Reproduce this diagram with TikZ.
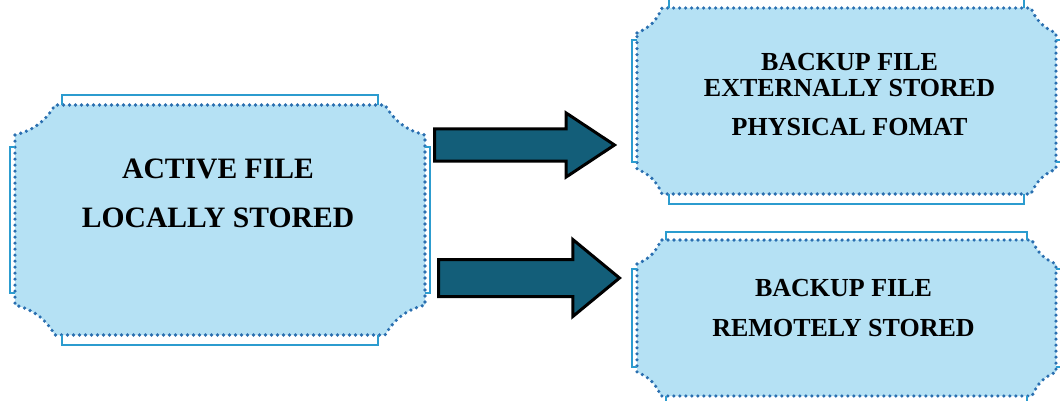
\documentclass[tikz,border=0pt]{standalone}
\usepackage{fontspec}
\setmainfont{Liberation Serif}
\usetikzlibrary{calc,fit,shapes.arrows}

\definecolor{paleblue}{HTML}{B5E1F4}
\definecolor{dotblue}{HTML}{2A6FB0}
\definecolor{rimblue}{HTML}{2C9CCF}
\definecolor{arrowteal}{HTML}{135E79}

% dotted plaque with solid side brackets: name, corner x, corner y, inset x, inset y, offset
\newcommand{\plaqueframe}[6]{%
    \draw[dotline]
        ($(#1.north west)+(0,#3)$) to[bend right=22] ($(#1.north west)+(#2,0)$)
        -- ($(#1.north east)+(-#2,0)$) to[bend right=22] ($(#1.north east)+(0,#3)$)
        -- ($(#1.south east)+(0,-#3)$) to[bend right=22] ($(#1.south east)+(-#2,0)$)
        -- ($(#1.south west)+(#2,0)$) to[bend right=22] ($(#1.south west)+(0,-#3)$)
        -- cycle;
    \draw[rimline] ($(#1.north west)+(#4,0)$) -- ++(0,-#6) -| ($(#1.north east)+(-#4,0)$);
    \draw[rimline] ($(#1.south west)+(#4,0)$) -- ++(0,#6) -| ($(#1.south east)+(-#4,0)$);
    \draw[rimline] ($(#1.north west)+(0,#5)$) -- ++(-5,0) |- ($(#1.south west)+(0,-#5)$);
    \draw[rimline] ($(#1.north east)+(0,#5)$) -- ++(5,0) |- ($(#1.south east)+(0,-#5)$);
}

\begin{document}
\begin{tikzpicture}[x=0.5pt, y=-0.5pt,
    plaque/.style={inner sep=0pt, outer sep=0pt},
    dotline/.style={draw=dotblue, fill=paleblue, line width=1.8pt, line cap=round, dash pattern=on 0pt off 3pt},
    rimline/.style={draw=rimblue, line width=1pt},
    boxtext/.style={align=center, inner sep=0pt, font=\bfseries\fontsize{13}{15.6}\selectfont},
    bigtext/.style={boxtext, font=\bfseries\fontsize{14.8}{17.8}\selectfont},
    blockarrow/.style={single arrow, draw=black, fill=arrowteal, line width=1.5pt, inner xsep=0pt, anchor=tail}]

    \useasboundingbox (0,0) rectangle (1060,401);
    \clip (0,0) rectangle (1060,401);

    \node[plaque, fit={(15,105) (425,335)}] (active) {};
    \node[plaque, fit={(637,8) (1056,194)}] (external) {};
    \node[plaque, fit={(637,240) (1056,396)}] (remote) {};

    \plaqueframe{active}{40}{30}{47}{42}{10}
    \plaqueframe{external}{25}{25}{32}{32}{10}
    \plaqueframe{remote}{24}{24}{29}{29}{8}

    \node[bigtext] (activetext) at ($(active.center)+(-2,-27)$) {ACTIVE FILE\\[6.7pt]LOCALLY STORED};
    \node[boxtext] (externaltext) at ($(external.center)+(3,-6)$) {BACKUP FILE\\[-2.6pt]EXTERNALLY STORED\\[3.9pt]PHYSICAL FOMAT};
    \node[boxtext] (remotetext) at ($(remote.center)+(-3,-10)$) {BACKUP FILE\\[4.4pt]REMOTELY STORED};

    \node[blockarrow, inner ysep=7.25pt, minimum height=90pt, single arrow head extend=8pt, single arrow tip angle=67] (toexternal) at ($(active.east)+(8,-75)$) {};
    \node[blockarrow, inner ysep=8.5pt, minimum height=90.5pt, single arrow head extend=10pt, single arrow tip angle=79] (toremote) at ($(active.east)+(12,58)$) {};

\end{tikzpicture}
\end{document}
